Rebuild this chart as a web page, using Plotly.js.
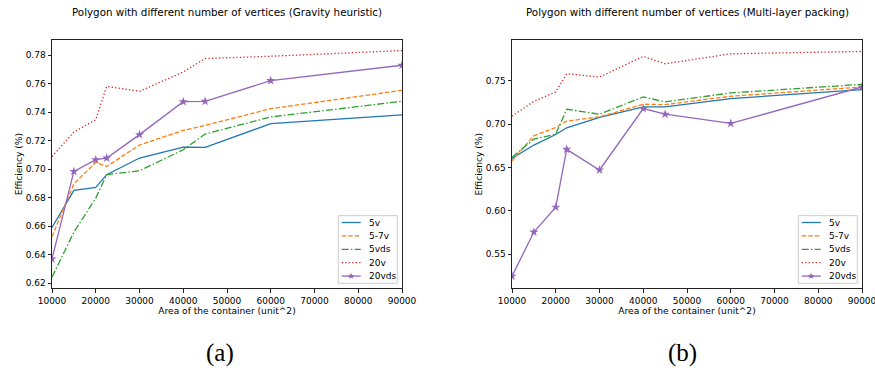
<!DOCTYPE html>
<html>
<head>
<meta charset="utf-8">
<script src="https://cdn.plot.ly/plotly-3.0.1.min.js"></script>
<style>html,body{margin:0;padding:0;background:#fff;}#chart{width:875px;height:371px;}</style>
</head>
<body>
<div id="chart"></div>
<script>
// Container areas (x values)
const areas = [10000, 15000, 20000, 22500, 30000, 40000, 45000, 60000, 90000];
const seriesNames = ["5v", "5-7v", "5vds", "20v", "20vds"];

// (a) Gravity heuristic
const gravity_5v    = [0.6592, 0.6852, 0.6873, 0.6962, 0.7079, 0.7156, 0.7154, 0.7320, 0.7381];
const gravity_57v   = [0.6528, 0.6898, 0.7048, 0.7020, 0.7170, 0.7273, 0.7308, 0.7425, 0.7554];
const gravity_5vds  = [0.6243, 0.6559, 0.6798, 0.6962, 0.6990, 0.7137, 0.7247, 0.7367, 0.7477];
const gravity_20v   = [0.7090, 0.7261, 0.7348, 0.7582, 0.7547, 0.7683, 0.7777, 0.7793, 0.7833];
const gravity_20vds = [0.6371, 0.6985, 0.7067, 0.7079, 0.7243, 0.7474, 0.7477, 0.7622, 0.7730];

// (b) Multi-layer packing
const multi_5v    = [0.6607, 0.6761, 0.6883, 0.6960, 0.7079, 0.7201, 0.7201, 0.7297, 0.7401];
const multi_57v   = [0.6580, 0.6868, 0.6964, 0.7036, 0.7086, 0.7232, 0.7228, 0.7324, 0.7431];
const multi_5vds  = [0.6619, 0.6830, 0.6887, 0.7174, 0.7117, 0.7316, 0.7259, 0.7362, 0.7462];
const multi_20v   = [0.7094, 0.7266, 0.7374, 0.7584, 0.7546, 0.7784, 0.7699, 0.7814, 0.7841];
const multi_20vds = [0.5247, 0.5757, 0.6044, 0.6711, 0.6473, 0.7182, 0.7117, 0.7010, 0.7431];

// tick labels
const xTicks = [10000, 20000, 30000, 40000, 50000, 60000, 70000, 80000, 90000];
const yTicksA = [0.62, 0.64, 0.66, 0.68, 0.70, 0.72, 0.74, 0.76, 0.78];
const yTicksB = [0.55, 0.60, 0.65, 0.70, 0.75];

const styles = [
  {color: "#1f77b4", dash: "solid"},
  {color: "#ff7f0e", dash: "4.5px,2px"},
  {color: "#2ca02c", dash: "7px,2.2px,1.5px,2.2px"},
  {color: "#d62728", dash: "1.3px,2.2px"},
  {color: "#9467bd", dash: "solid", marker: true}
];

function makeTraces(seriesList, xa, ya) {
  return seriesList.map((ys, i) => {
    const st = styles[i];
    const t = {
      x: areas, y: ys, name: seriesNames[i], type: "scatter",
      mode: st.marker ? "lines+markers" : "lines",
      xaxis: xa, yaxis: ya, showlegend: false,
      line: {color: st.color, width: 1.3, dash: st.dash},
      hoverinfo: "skip"
    };
    if (st.marker) t.marker = {symbol: "star", size: 7, color: st.color};
    return t;
  });
}

const data = [
  ...makeTraces([gravity_5v, gravity_57v, gravity_5vds, gravity_20v, gravity_20vds], "x", "y"),
  ...makeTraces([multi_5v, multi_57v, multi_5vds, multi_20v, multi_20vds], "x2", "y2")
];

// Matplotlib-style compact legend drawn as layout decorations (paper coords)
const W = 875, H = 371;
const px = v => v / W, py = v => 1 - v / H;
const shapes = [], annotations = [];
function addLegend(dx) {
  shapes.push({type: "rect", xref: "paper", yref: "paper",
    x0: px(338.3 + dx), x1: px(397.3 + dx), y0: py(215.7), y1: py(283.3),
    line: {color: "#cccccc", width: 1}, fillcolor: "rgba(255,255,255,0.85)", layer: "above"});
  seriesNames.forEach((name, i) => {
    const yc = 222.5 + i * 13.4;
    const st = styles[i];
    shapes.push({type: "line", xref: "paper", yref: "paper",
      x0: px(341.7 + dx), x1: px(360.7 + dx), y0: py(yc), y1: py(yc),
      line: {color: st.color, width: 1.3, dash: st.dash}, layer: "above"});
    if (st.marker) {
      annotations.push({text: "★", xref: "paper", yref: "paper", x: px(351.2 + dx), y: py(yc),
        xanchor: "center", yanchor: "middle", showarrow: false,
        font: {family: "DejaVu Sans", size: 9, color: st.color}});
    }
    annotations.push({text: name, xref: "paper", yref: "paper", x: px(366.5 + dx), y: py(yc),
      xanchor: "left", yanchor: "middle", showarrow: false,
      font: {family: "DejaVu Sans", size: 9, color: "#000"}});
  });
}
addLegend(0);
addLegend(460);

annotations.push(
  {text: "Polygon with different number of vertices (Gravity heuristic)", xref: "paper", yref: "paper",
   x: px(227), y: py(12), xanchor: "center", yanchor: "middle", showarrow: false,
   font: {family: "DejaVu Sans", size: 10.3, color: "#000"}},
  {text: "Polygon with different number of vertices (Multi-layer packing)", xref: "paper", yref: "paper",
   x: px(687), y: py(12), xanchor: "center", yanchor: "middle", showarrow: false,
   font: {family: "DejaVu Sans", size: 10.3, color: "#000"}},
  {text: "(a)", xref: "paper", yref: "paper", x: px(220), y: py(353),
   xanchor: "center", yanchor: "middle", showarrow: false,
   font: {family: "Liberation Serif", size: 25, color: "#000"}},
  {text: "(b)", xref: "paper", yref: "paper", x: px(682), y: py(353),
   xanchor: "center", yanchor: "middle", showarrow: false,
   font: {family: "Liberation Serif", size: 25, color: "#000"}}
);

const tickFont = {family: "DejaVu Sans", size: 9, color: "#000"};
const axisTitleFont = {family: "DejaVu Sans", size: 9.1, color: "#000"};
const baseX = {
  range: [10000, 90000], tickvals: xTicks, tickformat: "d",
  showgrid: false, zeroline: false, showline: true, mirror: true,
  linecolor: "#222", linewidth: 1, ticks: "outside", ticklen: 3.5, tickcolor: "#222",
  tickfont: tickFont, ticklabeloverflow: "allow",
  title: {text: "Area of the container (unit^2)", font: axisTitleFont, standoff: 3}
};
const baseY = {
  showgrid: false, zeroline: false, showline: true, mirror: true,
  linecolor: "#222", linewidth: 1, ticks: "outside", ticklen: 3.5, tickcolor: "#222",
  tickfont: tickFont, tickformat: ".2f",
  title: {text: "Efficiency (%)", font: axisTitleFont, standoff: 1}
};

const layout = {
  width: W, height: H,
  margin: {l: 0, r: 0, t: 0, b: 0},
  paper_bgcolor: "#fff", plot_bgcolor: "#fff",
  showlegend: false,
  xaxis: Object.assign({}, baseX, {domain: [52/W, 402/W], anchor: "y"}),
  yaxis: Object.assign({}, baseY, {domain: [82.7/H, 331/H], range: [0.6165, 0.7907], tickvals: yTicksA, anchor: "x"}),
  xaxis2: Object.assign({}, baseX, {domain: [512/W, 862/W], anchor: "y2"}),
  yaxis2: Object.assign({}, baseY, {domain: [82.7/H, 331/H], range: [0.5108, 0.7973], tickvals: yTicksB, anchor: "x2"}),
  shapes: shapes,
  annotations: annotations
};

Plotly.newPlot("chart", data, layout, {staticPlot: true, displayModeBar: false});
</script>
</body>
</html>
